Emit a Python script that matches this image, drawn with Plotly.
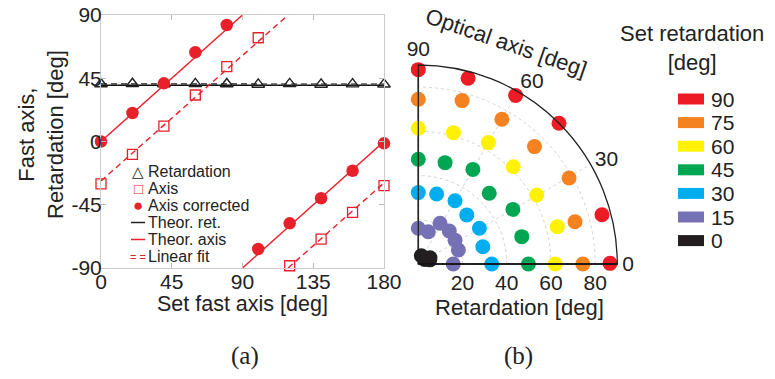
import numpy as np
import plotly.graph_objects as go

W, H = 775, 379

# ---------------- data: panel (a) ----------------
set_fast_axis = [0, 20, 40, 60, 80, 100, 120, 140, 160, 180]
meas_retardation = [40.9, 41.1, 40.8, 41.0, 40.9, 40.6, 41.0, 40.6, 40.8, 40.7]
meas_axis = [-30.2, -9.1, 11.0, 33.1, 53.2, 73.8, -88.4, -69.4, -50.4, -31.4]
axis_corrected = [0.0, 20.3, 41.4, 63.5, 82.9, -76.5, -58.2, -40.4, -20.8, -1.3]
theor_retardation = 40.0
x_ticks_a = [0, 45, 90, 135, 180]
y_ticks_a = [-90, -45, 0, 45, 90]
y_ticktext_a = ["-90", "-45", "0", "45", "90"]

# ---------------- data: panel (b) ----------------
set_retardation = [90, 75, 60, 45, 30, 15, 0]
set_colors = ["#ED1C24", "#F58220", "#FFF200", "#00A651", "#00AEEF", "#7671B4", "#231F20"]
meas_ret_b = {
    90: [86.7, 86.0, 90.4, 90.0, 88.0, 87.0, 87.9],
    75: [74.4, 73.4, 78.5, 74.7, 75.6, 76.5, 74.5],
    60: [61.9, 65.1, 62.0, 61.5, 63.4, 61.5, 61.4],
    45: [49.8, 48.4, 49.4, 45.3, 49.4, 47.4, 47.4],
    30: [33.2, 30.2, 32.0, 31.2, 33.1, 32.7, 32.3],
    15: [15.8, 19.2, 19.8, 20.5, 20.9, 15.3, 16.2],
    0: [4.5, 5.5, 3.5, 6.0, 4.0, 4.8, 3.2],
}
meas_optaxis_b = {
    90: [0.2, 15.0, 30.1, 45.0, 60.0, 75.0, 90.0],
    75: [0.0, 15.1, 29.7, 45.3, 60.0, 75.0, 90.0],
    60: [0.0, 15.0, 30.2, 45.7, 60.0, 75.0, 90.0],
    45: [0.0, 14.8, 30.0, 44.9, 60.0, 75.2, 90.0],
    30: [0.0, 15.0, 30.3, 45.4, 59.9, 75.3, 90.0],
    15: [0.0, 19.3, 33.0, 46.8, 61.9, 72.8, 90.0],
    0: [-8.0, 20.0, 35.0, 28.0, 70.0, 95.0, 120.0],
}
r_ticks_b = [20, 40, 60, 80]
theta_ticks_b = [0, 30, 60, 90]

RED = "#E8202A"
FONT = "Liberation Sans, Arial, Helvetica, sans-serif"


def px(x):
    return x / W


def py(y):
    return 1 - y / H


fig = go.Figure()

# ---- panel (a) lines ----
xs = np.array(set_fast_axis, dtype=float)

# theoretical retardation
fig.add_trace(go.Scatter(x=[xs.min(), xs.max()], y=[theor_retardation] * 2, mode="lines",
                         line=dict(color="#111111", width=1.6), showlegend=False))
# linear fit of retardation
pr = np.polyfit(xs, meas_retardation, 1)
fig.add_trace(go.Scatter(x=[xs.min(), xs.max()], y=np.polyval(pr, [xs.min(), xs.max()]), mode="lines",
                         line=dict(color="#555555", width=2, dash="6px,4px"), showlegend=False))

# theoretical axis (wrapped at +-90)
tx1 = np.array([0.0, 90.0])
tx2 = np.array([90.0, 180.0])
fig.add_trace(go.Scatter(x=list(tx1) + [None] + list(tx2),
                         y=list(tx1) + [None] + list(tx2 - 180),
                         mode="lines", line=dict(color=RED, width=1.4), showlegend=False))

# linear fit of measured axis (unwrapped, then wrapped for display)
ua = np.unwrap(np.array(meas_axis), period=180)
pa = np.polyfit(xs, ua, 1)
xc = (90 - pa[1]) / pa[0]
fx = [xs.min(), xc, None, xc, xs.max()]
fy = [np.polyval(pa, xs.min()), 90, None, -90, np.polyval(pa, xs.max()) - 180]
fig.add_trace(go.Scatter(x=fx, y=fy, mode="lines",
                         line=dict(color=RED, width=1.4, dash="6px,4px"), showlegend=False))

# markers
fig.add_trace(go.Scatter(x=set_fast_axis, y=meas_retardation, mode="markers", cliponaxis=False,
                         marker=dict(symbol="triangle-up-open", size=11, color="#222222",
                                     line=dict(width=1.4, color="#222222")), showlegend=False))
fig.add_trace(go.Scatter(x=set_fast_axis, y=meas_axis, mode="markers", cliponaxis=False,
                         marker=dict(symbol="square-open", size=10, color=RED,
                                     line=dict(width=1.3, color=RED)), showlegend=False))
fig.add_trace(go.Scatter(x=set_fast_axis, y=axis_corrected, mode="markers", cliponaxis=False,
                         marker=dict(symbol="circle", size=12.5, color=RED), showlegend=False))

# ---- panel (b) ----
for sr, col in zip(set_retardation, set_colors):
    fig.add_trace(go.Scatterpolar(r=meas_ret_b[sr], theta=meas_optaxis_b[sr], mode="markers",
                                  cliponaxis=False, marker=dict(size=15, color=col, line=dict(width=0)),
                                  showlegend=False, subplot="polar"))

ax_grid = "#d2d2d2"
fig.update_layout(
    width=W, height=H,
    margin=dict(l=0, r=0, t=0, b=0, autoexpand=False),
    paper_bgcolor="white", plot_bgcolor="white",
    font=dict(family=FONT, size=21, color="#222222"),
    showlegend=False,
    xaxis=dict(domain=[px(101), px(384)], range=[0, 180], tickvals=x_ticks_a,
               ticks="inside", ticklen=5, tickcolor="#bbbbbb", showline=True, mirror="ticks",
               linecolor="#cccccc", linewidth=1, showgrid=False, zeroline=False,
               tickfont=dict(size=21), automargin=False, ticklabelstandoff=-5),
    yaxis=dict(domain=[py(268), py(15)], range=[-90, 90], tickvals=y_ticks_a, ticktext=y_ticktext_a,
               ticks="inside", ticklen=5, tickcolor="#bbbbbb", showline=True, mirror="ticks",
               linecolor="#cccccc", linewidth=1, showgrid=False, zeroline=False,
               tickfont=dict(size=21), automargin=False, ticklabelstandoff=-6),
    polar=dict(
        domain=dict(x=[px(418.3), px(617.3)], y=[py(264), py(65)]),
        sector=[0, 90],
        bgcolor="rgba(0,0,0,0)",
        radialaxis=dict(range=[0, 90], tickvals=r_ticks_b, showline=True, linecolor="#111111",
                        linewidth=1.6, gridcolor=ax_grid, griddash="dot", gridwidth=1,
                        ticks="", tickfont=dict(size=21), angle=0),
        angularaxis=dict(tickvals=theta_ticks_b, direction="counterclockwise", rotation=0,
                         showline=True, linecolor="#222222", linewidth=1.3, gridcolor=ax_grid,
                         griddash="dot", gridwidth=1, ticks="", tickfont=dict(size=21)),
    ),
)

# 90-degree edge of the quarter polar plot
fig.add_shape(type="line", xref="paper", yref="paper", x0=px(418.3), x1=px(418.3),
              y0=py(264), y1=py(65), line=dict(color="#444444", width=1.6), layer="below")

ann = []
# axis titles (a)
ann.append(dict(x=px(242), y=py(304), text="Set fast axis [deg]", font=dict(size=21.5)))
ann.append(dict(x=px(41), y=py(135), text="Fast axis,<br>Retardation [deg]", textangle=-90,
                font=dict(size=22)))
# titles (b)
ann.append(dict(x=px(519), y=py(307), text="Retardation [deg]", font=dict(size=22)))
ann.append(dict(x=px(506), y=py(42), text="Optical axis [deg]", textangle=19, font=dict(size=22)))
# panel labels
ann.append(dict(x=px(245), y=py(356), text="(a)", font=dict(size=25, family="Liberation Serif, DejaVu Serif, serif")))
ann.append(dict(x=px(518), y=py(356), text="(b)", font=dict(size=25, family="Liberation Serif, DejaVu Serif, serif")))

# legend (a)
leg_a = [
    ("△", "#222222", "Retardation", 15),
    ("□", RED, "Axis", 15),
    ("●", RED, "Axis corrected", 17),
    ("line", "#222222", "Theor. ret.", 15),
    ("line", RED, "Theor. axis", 15),
    ("= =", RED, "Linear fit", 11),
]
y0a, dya = 171.5, 17.0
for i, (sym, col, lab, fs) in enumerate(leg_a):
    yy = y0a + i * dya
    if sym == "line":
        fig.add_shape(type="line", xref="paper", yref="paper", x0=px(131), x1=px(145),
                      y0=py(yy), y1=py(yy), line=dict(color=col, width=1.5))
    else:
        ann.append(dict(x=px(138), y=py(yy), text=sym, font=dict(size=fs, color=col), xanchor="center"))
    ann.append(dict(x=px(146), y=py(yy), text=lab, font=dict(size=16), xanchor="left"))

# legend (b)
ann.append(dict(x=px(692), y=py(48), text="Set retardation<br>[deg]", font=dict(size=22)))
y0b, dyb = 99, 23.6
for i, (sr, col) in enumerate(zip(set_retardation, set_colors)):
    yy = y0b + i * dyb
    fig.add_shape(type="rect", xref="paper", yref="paper", x0=px(678), x1=px(704),
                  y0=py(yy + 5.5), y1=py(yy - 5.5), fillcolor=col, line=dict(width=0))
    ann.append(dict(x=px(709), y=py(yy), text=str(sr), font=dict(size=21), xanchor="left"))

for a in ann:
    a.setdefault("xref", "paper")
    a.setdefault("yref", "paper")
    a.setdefault("showarrow", False)
    a.setdefault("xanchor", "center")
    a.setdefault("yanchor", "middle")
    fig.add_annotation(**a)

fig.write_html("out.html", config={"displayModeBar": False},
               post_script="document.body.style.margin='0';document.body.style.overflow='hidden';")
